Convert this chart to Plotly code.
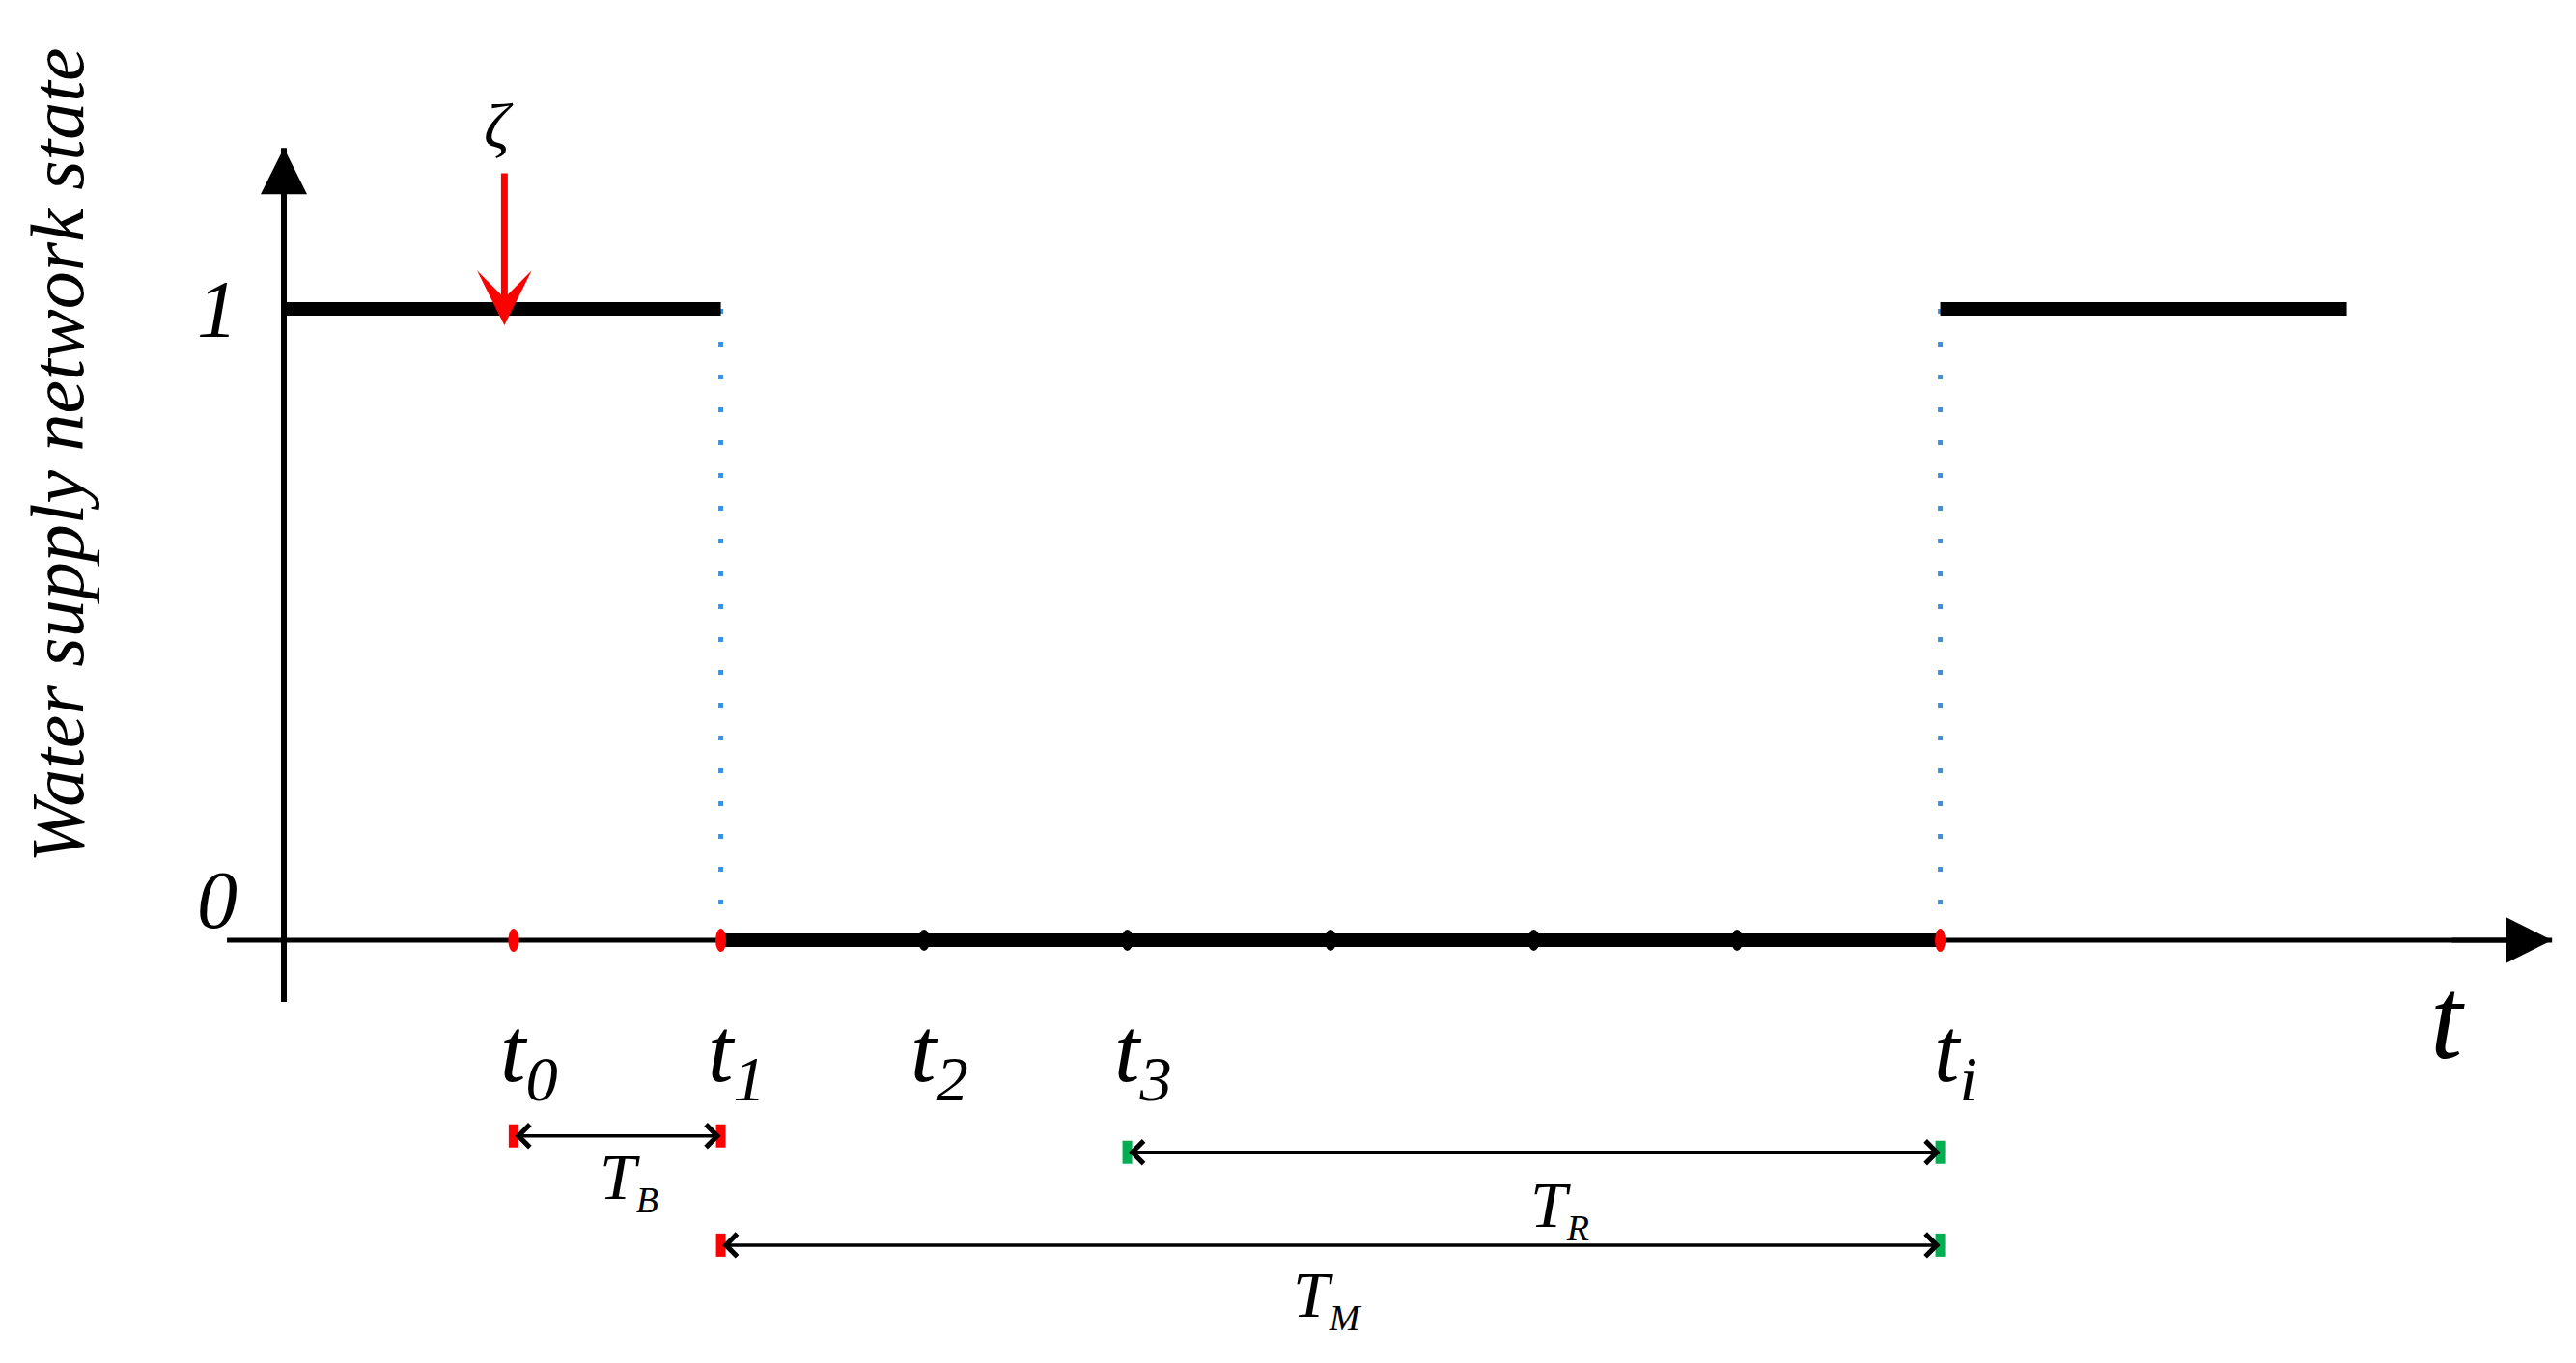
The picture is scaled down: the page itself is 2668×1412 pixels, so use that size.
import plotly.graph_objects as go

# time points on the axis (t0, t1, t2, t3, ..., ti) and their labels
t_points = [1.13, 2.15, 3.15, 4.15, 5.15, 6.15, 7.15, 8.15]
t_labels = ["t<sub>0</sub>", "t<sub>1</sub>", "t<sub>2</sub>", "t<sub>3</sub>", "", "", "", "t<sub>i</sub>"]
t_dot_colors = ["#ff0000", "#ff0000", "black", "black", "black", "black", "black", "#ff0000"]

# network state: 1 until t1, 0 from t1 to ti, back to 1 after ti
state_x = [0, 2.15, 8.15, 10.15]
state_y = [1, 0, 1]

# disturbance zeta
zeta_x = 1.085
zeta_top, zeta_tip = 1.217, 0.974

# duration spans: name, start, end, row level, cap colours, label position
span_names = ["T<sub><span style='font-size:38px'>B</span></sub>",
              "T<sub><span style='font-size:38px'>R</span></sub>",
              "T<sub><span style='font-size:38px'>M</span></sub>"]
span_start = [1.13, 4.15, 2.15]
span_end = [2.15, 8.15, 8.15]
span_level = [-0.31, -0.336, -0.483]
span_cap_left = ["#ff0000", "#00b050", "#ff0000"]
span_cap_right = ["#ff0000", "#00b050", "#00b050"]
span_label_x = [1.70, 6.28, 5.135]
span_label_y = [-0.38, -0.425, -0.567]

# plot frame (data units), axis extents
x_range = [(8 - 294) / 210.5, (2668 - 294) / 210.5]
y_range = [(974 - 1412) / 654, (974 - 8) / 654]
xaxis_ext = [-0.28, 11.16]
yaxis_ext = [-0.098, 1.255]

FONT = "Liberation Serif"
fig = go.Figure()

# blue dotted drops at t1 and ti
for xv in [state_x[1], state_x[2]]:
    fig.add_trace(go.Scatter(x=[xv, xv], y=[1, 0], mode="lines",
                             line=dict(color="#3d8fe0", width=5, dash="5px,29px"), hoverinfo="skip"))

# axes lines
fig.add_trace(go.Scatter(x=xaxis_ext, y=[0, 0], mode="lines", line=dict(color="black", width=5), hoverinfo="skip"))
fig.add_trace(go.Scatter(x=[0, 0], y=yaxis_ext, mode="lines", line=dict(color="black", width=6), hoverinfo="skip"))

# state segments (thick)
seg_x, seg_y = [], []
for i, yv in enumerate(state_y):
    seg_x += [state_x[i], state_x[i + 1], None]
    seg_y += [yv, yv, None]
fig.add_trace(go.Scatter(x=seg_x, y=seg_y, mode="lines", line=dict(color="black", width=14), hoverinfo="skip"))

shapes = []
for xv, c in zip(t_points, t_dot_colors):
    w, h = (11, 24) if c != "black" else (12, 22)
    shapes.append(dict(type="circle", xref="x", yref="y", xsizemode="pixel", ysizemode="pixel",
                       xanchor=xv, yanchor=0, x0=-w / 2, x1=w / 2, y0=-h / 2, y1=h / 2,
                       fillcolor=c, line=dict(width=0), layer="above"))
for s, e, lv, cl, cr in zip(span_start, span_end, span_level, span_cap_left, span_cap_right):
    for xv, c in [(s, cl), (e, cr)]:
        shapes.append(dict(type="rect", xref="x", yref="y", xsizemode="pixel", ysizemode="pixel",
                           xanchor=xv, yanchor=lv, x0=-5, x1=5, y0=-12, y1=12,
                           fillcolor=c, line=dict(width=0), layer="above"))

ann = []
# axis arrowheads
ann.append(dict(x=xaxis_ext[1], y=0, ax=xaxis_ext[1] - 0.5, ay=0, xref="x", yref="y", axref="x", ayref="y",
                text="", showarrow=True, arrowhead=2, arrowwidth=5, arrowsize=1.9, arrowcolor="black"))
ann.append(dict(x=0, y=yaxis_ext[1], ax=0, ay=yaxis_ext[1] - 0.2, xref="x", yref="y", axref="x", ayref="y",
                text="", showarrow=True, arrowhead=2, arrowwidth=6, arrowsize=1.6, arrowcolor="black"))
# disturbance arrow
ann.append(dict(x=zeta_x, y=zeta_tip, ax=zeta_x, ay=zeta_top, xref="x", yref="y", axref="x", ayref="y",
                text="", showarrow=True, arrowhead=3, arrowwidth=7, arrowsize=1.35, arrowcolor="#ff0000"))
ann.append(dict(x=1.055, y=1.29, xref="x", yref="y", text="ζ", showarrow=False,
                font=dict(family=FONT, size=66, color="black", style="italic")))
# duration spans
for s, e, lv in zip(span_start, span_end, span_level):
    ann.append(dict(x=e, y=lv, ax=s, ay=lv, xref="x", yref="y", axref="x", ayref="y",
                    text="", showarrow=True, arrowside="end+start", arrowhead=4, startarrowhead=4,
                    arrowwidth=3.5, arrowsize=1.3, startarrowsize=1.3, arrowcolor="black"))
for name, lx, ly in zip(span_names, span_label_x, span_label_y):
    ann.append(dict(x=lx, y=ly, xref="x", yref="y", text=name, showarrow=False,
                    font=dict(family=FONT, size=68, color="black", style="italic")))
# tick labels
for xv, lab in zip(t_points, t_labels):
    if lab:
        ann.append(dict(x=xv, y=-0.185, xref="x", yref="y", text=lab, showarrow=False, xshift=16,
                        font=dict(family=FONT, size=95, color="black", style="italic")))
ann.append(dict(x=10.646, y=-0.124, xref="x", yref="y", text="t", showarrow=False,
                font=dict(family=FONT, size=120, color="black", style="italic")))
# state level labels
for yv, lab in [(1.0, "1"), (0.064, "0")]:
    ann.append(dict(x=-0.33, y=yv, xref="x", yref="y", text=lab, showarrow=False,
                    font=dict(family=FONT, size=84, color="black", style="italic")))
# y title
ann.append(dict(x=-1.112, y=0.768, xref="x", yref="y", text="Water supply network state", showarrow=False,
                textangle=-90, font=dict(family=FONT, size=78, color="black", style="italic")))

fig.update_layout(
    width=2660, height=1404, margin=dict(l=0, r=0, t=0, b=0),
    paper_bgcolor="white", plot_bgcolor="white", showlegend=False,
    xaxis=dict(range=x_range, visible=False, fixedrange=True),
    yaxis=dict(range=y_range, visible=False, fixedrange=True),
    shapes=shapes, annotations=ann,
)
fig.write_html("out.html")
